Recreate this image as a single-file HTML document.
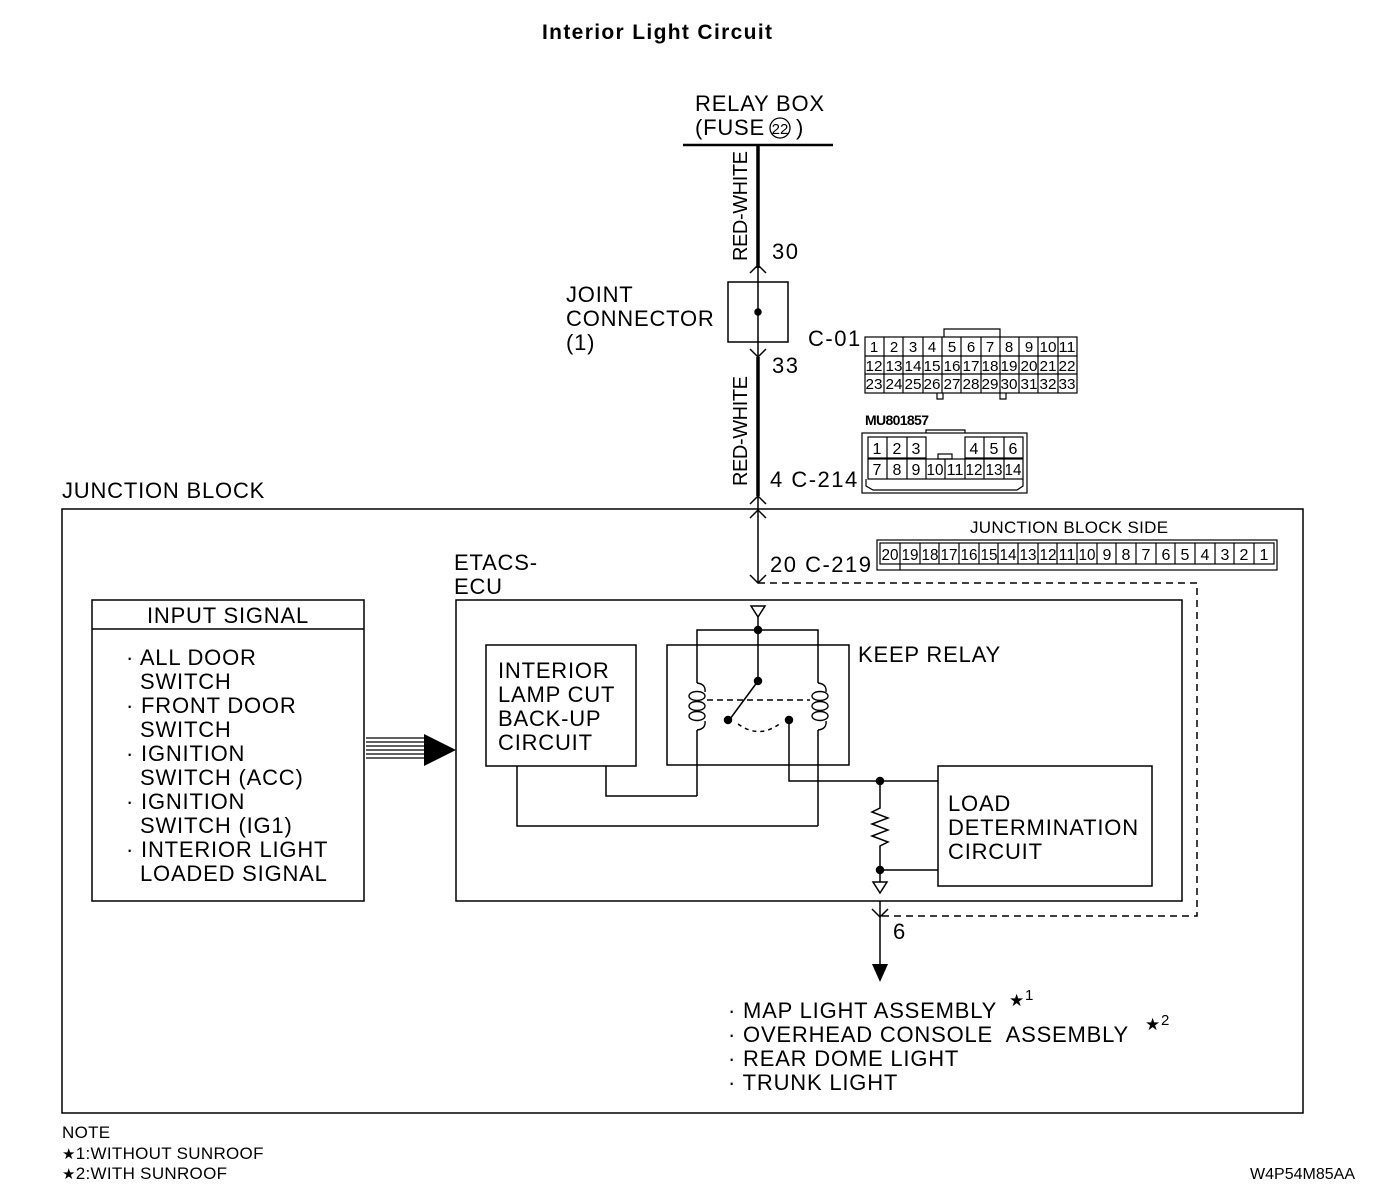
<!DOCTYPE html>
<html><head><meta charset="utf-8"><style>
html,body{margin:0;padding:0;background:#fff;}
svg{display:block;font-family:"Liberation Sans",sans-serif;}
.c{font-family:"Liberation Sans",sans-serif;text-anchor:middle;}
</style></head><body>
<svg width="1400" height="1196" viewBox="0 0 1400 1196" xmlns="http://www.w3.org/2000/svg" fill="none" stroke="#000" stroke-width="1.5">
<g fill="#000" stroke="none" font-size="22" letter-spacing="0.8">
<text x="542" y="39" font-size="21" font-weight="bold" textLength="230" letter-spacing="0">Interior Light Circuit</text>
<text x="695" y="111">RELAY BOX</text>
<text x="695" y="135">(FUSE</text>
<text x="780" y="134" font-size="15" text-anchor="middle" letter-spacing="0">22</text>
<text x="796" y="135">)</text>
<text x="566" y="302">JOINT</text>
<text x="566" y="326">CONNECTOR</text>
<text x="566" y="350">(1)</text>
<g font-size="22" letter-spacing="1.5">
<text x="772" y="259">30</text>
<text x="772" y="373">33</text>
<text x="808" y="346">C-01</text>
<text x="770" y="487">4 C-214</text>
<text x="770" y="572">20 C-219</text>
<text x="893" y="939">6</text>
</g>
<text transform="translate(747 261) rotate(-90)" font-size="20" letter-spacing="0" textLength="110">RED-WHITE</text>
<text transform="translate(747 486) rotate(-90)" font-size="20" letter-spacing="0" textLength="110">RED-WHITE</text>
<text x="62" y="498">JUNCTION BLOCK</text>
<text x="454" y="570">ETACS-</text>
<text x="454" y="594">ECU</text>
<text x="228" y="623" text-anchor="middle">INPUT SIGNAL</text>
<text x="126" y="665">· ALL DOOR</text><text x="140" y="689">SWITCH</text>
<text x="126" y="713">· FRONT DOOR</text><text x="140" y="737">SWITCH</text>
<text x="126" y="761">· IGNITION</text><text x="140" y="785">SWITCH (ACC)</text>
<text x="126" y="809">· IGNITION</text><text x="140" y="833">SWITCH (IG1)</text>
<text x="126" y="857">· INTERIOR LIGHT</text><text x="140" y="881">LOADED SIGNAL</text>
<text x="498" y="678">INTERIOR</text>
<text x="498" y="702">LAMP CUT</text>
<text x="498" y="726">BACK-UP</text>
<text x="498" y="750">CIRCUIT</text>
<text x="858" y="662">KEEP RELAY</text>
<text x="948" y="811">LOAD</text>
<text x="948" y="835">DETERMINATION</text>
<text x="948" y="859">CIRCUIT</text>
<text x="728" y="1018">· MAP LIGHT ASSEMBLY</text>
<text x="1009" y="1006" font-size="17" letter-spacing="0">★</text><text x="1025" y="1000" font-size="15">1</text>
<text x="728" y="1042">· OVERHEAD CONSOLE&#160; ASSEMBLY</text>
<text x="1145" y="1030" font-size="17" letter-spacing="0">★</text><text x="1161" y="1025" font-size="15">2</text>
<text x="728" y="1066">· REAR DOME LIGHT</text>
<text x="728" y="1090">· TRUNK LIGHT</text>
<g font-size="17" letter-spacing="0.3">
<text x="62" y="1138">NOTE</text>
<text x="62" y="1159"><tspan font-size="15">★</tspan>1:WITHOUT SUNROOF</text>
<text x="62" y="1179"><tspan font-size="15">★</tspan>2:WITH SUNROOF</text>
<text x="1250" y="1179" font-size="16" textLength="105" letter-spacing="0">W4P54M85AA</text>
<text x="970" y="533" font-size="17">JUNCTION BLOCK SIDE</text>
<text x="865" y="425" font-size="14" font-weight="bold" textLength="64" letter-spacing="0">MU801857</text>
</g>
</g>
<circle cx="780" cy="128" r="10" stroke-width="1.3"/>
<!-- top wire -->
<line x1="683" y1="145" x2="833" y2="145" stroke-width="2.5"/>
<line x1="758" y1="145" x2="758" y2="268" stroke-width="3.5"/>
<polyline points="750,273 758,265 766,273"/>
<line x1="758" y1="265" x2="758" y2="357"/>
<rect x="728" y="282" width="60" height="60"/>
<circle cx="758" cy="312" r="3" fill="#000"/>
<polyline points="750,349 758,357 766,349"/>
<line x1="758" y1="357" x2="758" y2="496" stroke-width="3.5"/>
<polyline points="750,504 758,496 766,504"/>
<polyline points="750,518 758,510 766,518"/>
<line x1="758" y1="496" x2="758" y2="583"/>
<polyline points="750,575 758,583 766,575"/>
<polyline points="758,583 1197,583 1197,916 880,916" stroke-dasharray="7,5"/>
<!-- boxes -->
<rect x="62" y="509" width="1241" height="604"/>
<rect x="456" y="600" width="726" height="301"/>
<rect x="92" y="600" width="272" height="301"/>
<line x1="92" y1="629" x2="364" y2="629"/>
<rect x="486" y="645" width="150" height="121"/>
<rect x="667" y="645" width="182" height="120"/>
<rect x="938" y="766" width="214" height="120"/>
<!-- big arrow -->
<g stroke-width="1.3">
<line x1="366" y1="738" x2="428" y2="738"/><line x1="366" y1="742" x2="428" y2="742"/>
<line x1="366" y1="746" x2="428" y2="746"/><line x1="366" y1="750" x2="428" y2="750"/>
<line x1="366" y1="754" x2="428" y2="754"/><line x1="366" y1="758" x2="428" y2="758"/>
</g>
<polygon points="424,734 456,750 424,766" fill="#000" stroke="none"/>
<!-- relay internals -->
<polygon points="751,606 765,606 758,617"/>
<line x1="758" y1="617" x2="758" y2="681"/>
<circle cx="758" cy="630" r="3.5" fill="#000"/>
<polyline points="697,683 697,630 818,630 818,683"/>
<line x1="697" y1="730" x2="697" y2="796"/>
<line x1="818" y1="730" x2="818" y2="826"/>
<g stroke-width="1.4">
<path d="M697,683 Q706,684 705,692"/>
<path d="M697,730 Q706,729 705,721"/>
<ellipse cx="697" cy="696" rx="8" ry="4.5"/><ellipse cx="697" cy="706" rx="8" ry="4.5"/><ellipse cx="697" cy="716" rx="8" ry="4.5"/>
<path d="M818,683 Q827,684 826,692"/>
<path d="M818,730 Q827,729 826,721"/>
<ellipse cx="820" cy="696" rx="8" ry="4.5"/><ellipse cx="820" cy="706" rx="8" ry="4.5"/><ellipse cx="820" cy="716" rx="8" ry="4.5"/>
</g>
<line x1="707" y1="700" x2="810" y2="700" stroke-dasharray="6,4"/>
<circle cx="758" cy="681" r="3.5" fill="#000"/>
<line x1="758" y1="681" x2="730" y2="719"/>
<circle cx="728" cy="720" r="3.5" fill="#000"/>
<path d="M738,724 Q760,740 782,722" stroke-dasharray="4,4"/>
<circle cx="789" cy="720" r="3.5" fill="#000"/>
<polyline points="789,720 789,781 938,781"/>
<polyline points="697,796 606,796 606,766"/>
<polyline points="818,826 517,826 517,766"/>
<circle cx="880" cy="781" r="3.5" fill="#000"/>
<polyline points="880,781 880,808 872,812 888,818 872,824 888,830 872,836 888,842 880,846 880,882"/>
<circle cx="880" cy="870" r="3.5" fill="#000"/>
<line x1="880" y1="870" x2="938" y2="870"/>
<polygon points="873,882 887,882 880,893"/>
<!-- output -->
<polyline points="872,909 880,917 888,909"/>
<line x1="880" y1="901" x2="880" y2="966"/>
<polygon points="872,964 888,964 880,982" fill="#000" stroke="none"/>
<!-- C-01 connector -->
<g stroke-width="1.2">
<polyline points="944,337 944,329 1000,329 1000,337"/>
<rect x="865" y="337" width="212" height="56"/>
<line x1="865" y1="356" x2="1077" y2="356"/><line x1="865" y1="374" x2="1077" y2="374"/>
<path d="M884,337v56M903,337v56M923,337v56M942,337v56M961,337v56M981,337v56M1000,337v56M1019,337v56M1038,337v56M1058,337v56"/>
<path d="M937,393v6h6v-6M1000,393v6h6v-6"/>
</g>
<g fill="#000" stroke="none" class="c" font-size="15">
<text x="874" y="352">1</text><text x="894" y="352">2</text><text x="913" y="352">3</text><text x="932" y="352">4</text><text x="952" y="352">5</text><text x="971" y="352">6</text><text x="990" y="352">7</text><text x="1009" y="352">8</text><text x="1029" y="352">9</text><text x="1048" y="352" textLength="17" lengthAdjust="spacingAndGlyphs">10</text><text x="1067" y="352" textLength="17" lengthAdjust="spacingAndGlyphs">11</text>
<text x="874" y="371" textLength="17" lengthAdjust="spacingAndGlyphs">12</text><text x="894" y="371" textLength="17" lengthAdjust="spacingAndGlyphs">13</text><text x="913" y="371" textLength="17" lengthAdjust="spacingAndGlyphs">14</text><text x="932" y="371" textLength="17" lengthAdjust="spacingAndGlyphs">15</text><text x="952" y="371" textLength="17" lengthAdjust="spacingAndGlyphs">16</text><text x="971" y="371" textLength="17" lengthAdjust="spacingAndGlyphs">17</text><text x="990" y="371" textLength="17" lengthAdjust="spacingAndGlyphs">18</text><text x="1009" y="371" textLength="17" lengthAdjust="spacingAndGlyphs">19</text><text x="1029" y="371" textLength="17" lengthAdjust="spacingAndGlyphs">20</text><text x="1048" y="371" textLength="17" lengthAdjust="spacingAndGlyphs">21</text><text x="1067" y="371" textLength="17" lengthAdjust="spacingAndGlyphs">22</text>
<text x="874" y="389" textLength="17" lengthAdjust="spacingAndGlyphs">23</text><text x="894" y="389" textLength="17" lengthAdjust="spacingAndGlyphs">24</text><text x="913" y="389" textLength="17" lengthAdjust="spacingAndGlyphs">25</text><text x="932" y="389" textLength="17" lengthAdjust="spacingAndGlyphs">26</text><text x="952" y="389" textLength="17" lengthAdjust="spacingAndGlyphs">27</text><text x="971" y="389" textLength="17" lengthAdjust="spacingAndGlyphs">28</text><text x="990" y="389" textLength="17" lengthAdjust="spacingAndGlyphs">29</text><text x="1009" y="389" textLength="17" lengthAdjust="spacingAndGlyphs">30</text><text x="1029" y="389" textLength="17" lengthAdjust="spacingAndGlyphs">31</text><text x="1048" y="389" textLength="17" lengthAdjust="spacingAndGlyphs">32</text><text x="1067" y="389" textLength="17" lengthAdjust="spacingAndGlyphs">33</text>
</g>
<!-- C-214 -->
<g stroke-width="1.2">
<rect x="862" y="433" width="165" height="60"/>
<polyline points="926,433 926,430 965,430 965,433"/>
<rect x="868" y="437" width="58" height="21"/><rect x="965" y="437" width="58" height="21"/>
<path d="M887,437v21M907,437v21M984,437v21M1004,437v21"/>
<rect x="868" y="459" width="155" height="20"/>
<path d="M887,459v20M907,459v20M926,459v20M945,459v20M965,459v20M984,459v20M1004,459v20"/>
<rect x="938" y="454" width="14" height="5"/>
<polyline points="866,479 866,486 873,490 1017,490 1023,486 1023,479"/>
</g>
<g fill="#000" stroke="none" class="c" font-size="16">
<text x="877" y="454">1</text><text x="897" y="454">2</text><text x="916" y="454">3</text><text x="974" y="454">4</text><text x="994" y="454">5</text><text x="1013" y="454">6</text>
<text x="877" y="475">7</text><text x="897" y="475">8</text><text x="916" y="475">9</text><text x="935" y="475" textLength="17" lengthAdjust="spacingAndGlyphs">10</text><text x="955" y="475" textLength="17" lengthAdjust="spacingAndGlyphs">11</text><text x="974" y="475" textLength="17" lengthAdjust="spacingAndGlyphs">12</text><text x="994" y="475" textLength="17" lengthAdjust="spacingAndGlyphs">13</text><text x="1013" y="475" textLength="17" lengthAdjust="spacingAndGlyphs">14</text>
</g>
<!-- C-219 -->
<g stroke-width="1.2">
<rect x="877" y="540" width="400" height="30"/>
<rect x="880" y="543" width="394" height="21"/>
<path d="M900,543v21M920,543v21M939,543v21M959,543v21M979,543v21M998,543v21M1018,543v21M1038,543v21M1057,543v21M1077,543v21M1097,543v21M1116,543v21M1136,543v21M1156,543v21M1175,543v21M1195,543v21M1215,543v21M1234,543v21M1254,543v21"/>
<polyline points="900,564 900,570 M1254,564 1254,570"/>
</g>
<g fill="#000" stroke="none" class="c" font-size="16">
<text x="890" y="560" textLength="17" lengthAdjust="spacingAndGlyphs">20</text><text x="910" y="560" textLength="17" lengthAdjust="spacingAndGlyphs">19</text><text x="930" y="560" textLength="17" lengthAdjust="spacingAndGlyphs">18</text><text x="949" y="560" textLength="17" lengthAdjust="spacingAndGlyphs">17</text><text x="969" y="560" textLength="17" lengthAdjust="spacingAndGlyphs">16</text><text x="989" y="560" textLength="17" lengthAdjust="spacingAndGlyphs">15</text><text x="1008" y="560" textLength="17" lengthAdjust="spacingAndGlyphs">14</text><text x="1028" y="560" textLength="17" lengthAdjust="spacingAndGlyphs">13</text><text x="1048" y="560" textLength="17" lengthAdjust="spacingAndGlyphs">12</text><text x="1067" y="560" textLength="17" lengthAdjust="spacingAndGlyphs">11</text><text x="1087" y="560" textLength="17" lengthAdjust="spacingAndGlyphs">10</text><text x="1107" y="560">9</text><text x="1126" y="560">8</text><text x="1146" y="560">7</text><text x="1166" y="560">6</text><text x="1185" y="560">5</text><text x="1205" y="560">4</text><text x="1225" y="560">3</text><text x="1244" y="560">2</text><text x="1264" y="560">1</text>
</g>
</svg>
</body></html>
